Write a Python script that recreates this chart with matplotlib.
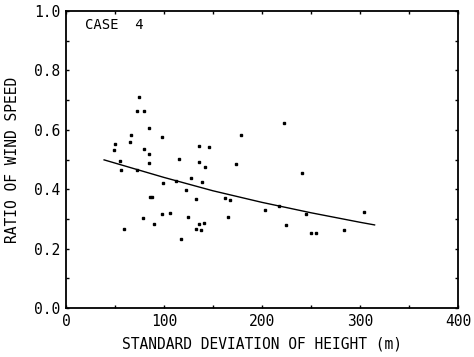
import numpy as np
import matplotlib.pyplot as plt
from matplotlib.ticker import MultipleLocator

# scatter points: standard deviation of height (m) vs ratio of wind speed
sd_height = [49, 50, 55, 56, 59, 65, 66, 73, 72.5, 75, 80, 79.7, 79, 84.4,
             85, 85.1, 86, 88, 89.5, 97.7, 99.4, 97.7, 106, 112, 115, 117.4,
             122.6, 125, 127.3, 132.4, 132.8, 135.8, 136.2, 136.2, 138, 139.2,
             141, 142, 145.7, 162.7, 165.8, 167.8, 173.3, 179, 203.6, 217.2,
             222.6, 224.3, 240.7, 245, 250.6, 255.3, 284.3, 304.7]
wind_ratio = [0.533, 0.551, 0.496, 0.466, 0.266, 0.558, 0.584, 0.663, 0.465,
              0.711, 0.664, 0.537, 0.304, 0.606, 0.519, 0.488, 0.375, 0.375,
              0.282, 0.576, 0.420, 0.317, 0.319, 0.427, 0.502, 0.231, 0.399,
              0.307, 0.439, 0.366, 0.266, 0.491, 0.546, 0.282, 0.263, 0.426,
              0.288, 0.474, 0.542, 0.371, 0.307, 0.365, 0.485, 0.584, 0.330,
              0.343, 0.624, 0.281, 0.456, 0.318, 0.253, 0.254, 0.263, 0.322]

# fitted curve
fit_x = [39, 70, 100, 150, 200, 250, 300, 315]
fit_y = [0.499, 0.469, 0.440, 0.395, 0.356, 0.321, 0.289, 0.280]

xticks = [0, 100, 200, 300, 400]
yticks = [0.0, 0.2, 0.4, 0.6, 0.8, 1.0]

plt.rcParams['font.family'] = ['DejaVu Sans Mono']

fig = plt.figure(figsize=(4.74, 3.57), dpi=100)
ax = fig.add_axes([0.139, 0.137, 0.827, 0.832])

ax.plot(sd_height, wind_ratio, 's', color='black', markersize=1.9)
ax.plot(fit_x, fit_y, '-', color='black', linewidth=1.0)

ax.set_xlim(0, 400)
ax.set_ylim(0, 1.0)
ax.set_xticks(xticks)
ax.set_xticklabels([str(v) for v in xticks], fontsize=10.5)
ax.set_yticks(yticks)
ax.set_yticklabels(["%.1f" % v for v in yticks], fontsize=10.5)
ax.xaxis.set_minor_locator(MultipleLocator(50))
ax.yaxis.set_minor_locator(MultipleLocator(0.1))
ax.tick_params(which='both', direction='in', length=2, width=1,
               top=True, right=True, pad=4)

for s in ax.spines.values():
    s.set_linewidth(1.3)

ax.set_xlabel("STANDARD DEVIATION OF HEIGHT (m)", fontsize=10.5, labelpad=6)
ax.set_ylabel("RATIO OF WIND SPEED", fontsize=10.5, labelpad=10)
ax.text(19, 0.953, "CASE  4", fontsize=10, va='center', ha='left')

plt.savefig("out.png", dpi=100)
